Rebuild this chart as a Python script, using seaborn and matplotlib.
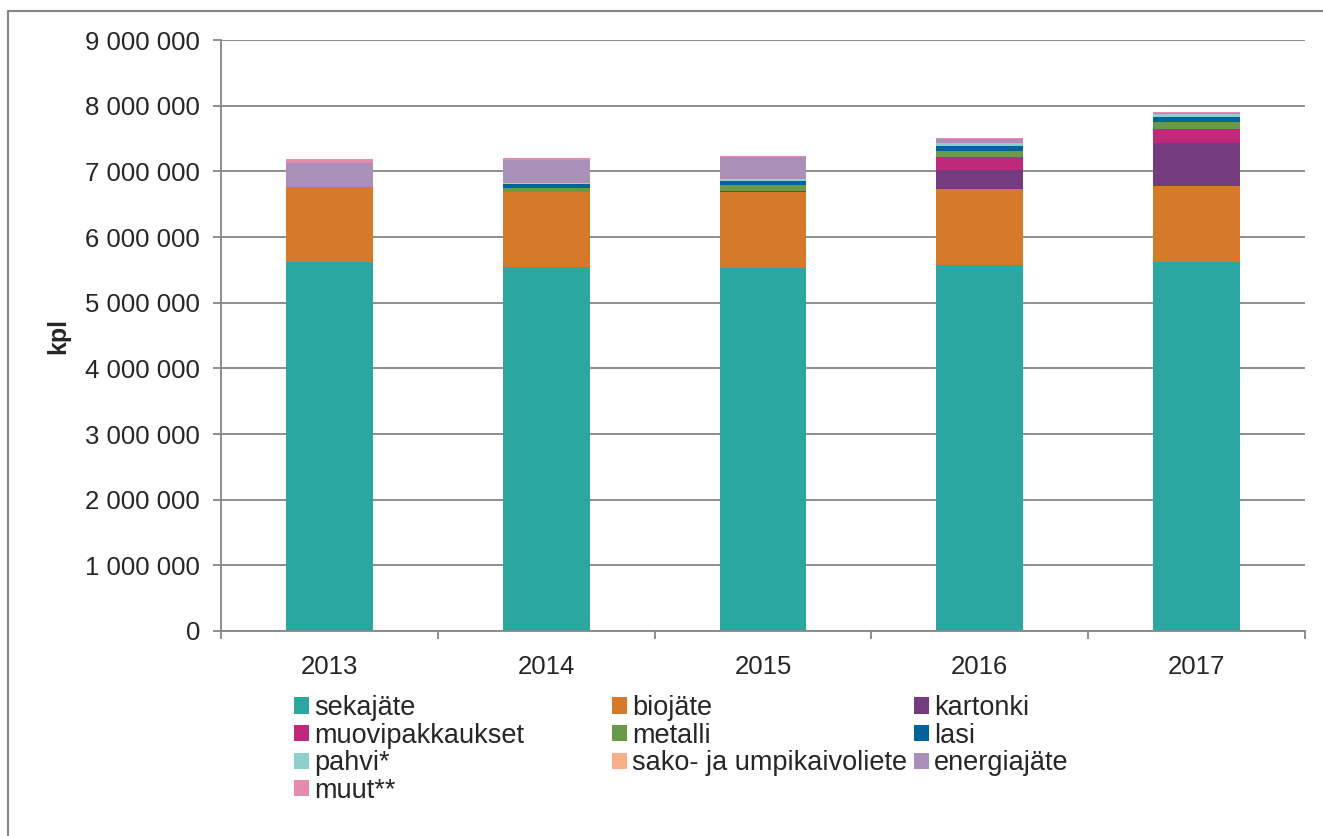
import matplotlib
matplotlib.use("Agg")
import matplotlib.pyplot as plt
from matplotlib.patches import Patch
from matplotlib.lines import Line2D
from matplotlib.ticker import FuncFormatter, FixedLocator
import seaborn as sns
import pandas as pd
import numpy as np

years = ["2013", "2014", "2015", "2016", "2017"]
series_names = ["sekajäte", "biojäte", "kartonki", "muovipakkaukset", "metalli",
                "lasi", "pahvi*", "sako- ja umpikaivoliete", "energiajäte", "muut**"]
sekajate = [5615000, 5543000, 5533000, 5578000, 5624000]
biojate = [1151000, 1147000, 1147000, 1148000, 1152000]
kartonki = [0, 0, 25000, 289000, 650000]
muovipakkaukset = [0, 0, 0, 198000, 214000]
metalli = [0, 61000, 81000, 92000, 106000]
lasi = [0, 61000, 70000, 85000, 81000]
pahvi = [0, 0, 30000, 41000, 46000]
sako = [3000, 3000, 3000, 3000, 3000]
energiajate = [365000, 350000, 335000, 61000, 10000]
muut = [56000, 41000, 15000, 15000, 16000]
series_values = [sekajate, biojate, kartonki, muovipakkaukset, metalli,
                 lasi, pahvi, sako, energiajate, muut]
colors = ["#2CA6A0", "#D57A2A", "#743C7F", "#C0297A", "#6A9A48",
          "#00639A", "#8DCFCB", "#F7B08A", "#A990B8", "#E58BB0"]
y_ticks = [0, 1000000, 2000000, 3000000, 4000000, 5000000, 6000000, 7000000, 8000000, 9000000]

sns.set_theme(style="white")
plt.rcParams['font.family'] = ['Liberation Sans', 'DejaVu Sans']

fig = plt.figure(figsize=(13.23, 8.36), dpi=100)
ax = fig.add_axes([221/1323, 1 - 631/836, (1305-221)/1323, (631-40)/836])

df = pd.DataFrame({"year": years})
cum = np.zeros(len(years))
for name, vals in zip(series_names, series_values):
    cum = cum + np.array(vals, dtype=float)
    df[name] = cum

gray = "#868686"
ax.set_axisbelow(True)
for name, col in reversed(list(zip(series_names, colors))):
    sns.barplot(data=df, x="year", y=name, color=col, width=0.4,
                saturation=1, ax=ax, linewidth=0, edgecolor="none")

ax.set_ylim(0, 9000000)
ax.set_xlim(-0.5, 4.5)
ax.yaxis.set_major_locator(FixedLocator(y_ticks))
ax.yaxis.set_major_formatter(FuncFormatter(lambda v, p: f"{int(v):,}".replace(",", " ")))
ax.grid(axis="y", color=gray, linewidth=1.3)
ax.grid(axis="x", visible=False)
for s in ["top", "right"]:
    ax.spines[s].set_visible(False)
for s in ["left", "bottom"]:
    ax.spines[s].set_color(gray)
    ax.spines[s].set_linewidth(1.3)
ax.set_xlabel("")
ax.set_ylabel("kpl", fontsize=18, fontweight="bold", labelpad=11)
ax.tick_params(axis="y", which="major", length=6, width=1.3, color=gray,
               labelsize=18.5, pad=9, left=True)
ax.tick_params(axis="x", which="major", length=0, labelsize=18.5, pad=17)
ax.set_xticks(np.arange(-0.5, 5.0, 1.0), minor=True)
ax.tick_params(axis="x", which="minor", length=6, width=1.3, color=gray, bottom=True)

# legends (row-major 3 columns)
handles = [Patch(facecolor=c, edgecolor="none") for c in colors]
cols = [[0, 3, 6, 9], [1, 4, 7], [2, 5, 8]]
col_x = [294, 612, 914]
for idxs, xpx in zip(cols, col_x):
    leg = fig.legend([handles[i] for i in idxs], [series_names[i] for i in idxs],
                     loc="upper left", bbox_to_anchor=(xpx/1323, 1 - 695/836),
                     frameon=False, fontsize=19.5, handlelength=0.55, handleheight=0.55,
                     handletextpad=0.2, labelspacing=0.06, borderpad=0, borderaxespad=0)

# figure border
fig.add_artist(Line2D([8/1323, 8/1323], [0, 1 - 11/836], transform=fig.transFigure,
                      color=gray, linewidth=1.5))
fig.add_artist(Line2D([8/1323, 1], [1 - 11/836, 1 - 11/836], transform=fig.transFigure,
                      color=gray, linewidth=1.5))

fig.savefig("out.png", dpi=100)
